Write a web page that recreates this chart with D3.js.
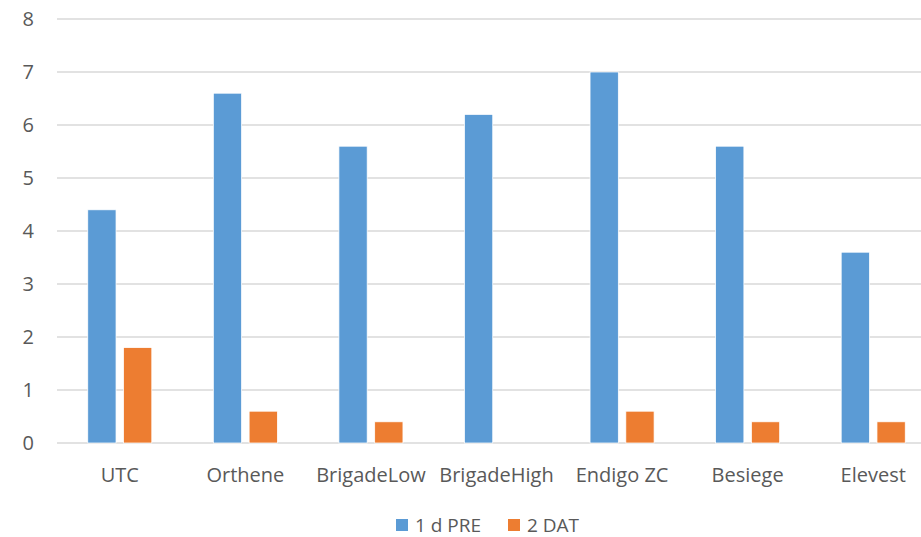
<!DOCTYPE html>
<html>
<head>
<meta charset="utf-8">
<script src="https://d3js.org/d3.v7.min.js"></script>
<style>
  body { margin: 0; background: #fff; }
  svg text { font-family: "Open Sans", Lato, sans-serif; fill: #595959; }
</style>
</head>
<body>
<svg id="chart" width="921" height="537"></svg>
<script>
// data
const categories = ["UTC", "Orthene", "BrigadeLow", "BrigadeHigh", "Endigo ZC", "Besiege", "Elevest"];
const seriesNames = ["1 d PRE", "2 DAT"];
const pre = [4.4, 6.6, 5.6, 6.2, 7.0, 5.6, 3.6];
const dat = [1.8, 0.6, 0.4, 0, 0.6, 0.4, 0.4];
const yTicks = [0, 1, 2, 3, 4, 5, 6, 7, 8];
const colors = ["#5B9BD5", "#ED7D31"];

const svg = d3.select("svg#chart");
const plotLeft = 57, plotRight = 936, plotTop = 19, plotBottom = 443;

const x0 = d3.scaleBand().domain(categories).range([plotLeft, plotRight])
  .paddingInner(0.49).paddingOuter(0.245);
const x1 = d3.scaleBand().domain(seriesNames).range([0, x0.bandwidth()])
  .paddingInner(0.21);
const y = d3.scaleLinear().domain([0, 8]).range([plotBottom, plotTop]);

// gridlines
svg.append("g").selectAll("line").data(yTicks).join("line")
  .attr("x1", plotLeft).attr("x2", plotRight)
  .attr("y1", d => y(d)).attr("y2", d => y(d))
  .attr("stroke", "#D9D9D9").attr("stroke-width", 1.5);

// y labels
svg.append("g").selectAll("text").data(yTicks).join("text")
  .attr("x", 34).attr("y", d => y(d))
  .attr("text-anchor", "end").attr("dy", "0.36em")
  .attr("font-size", 20)
  .text(d => d);

const rows = categories.map((c, i) => ({ cat: c, vals: [pre[i], dat[i]] }));

const groups = svg.append("g").selectAll("g").data(rows).join("g")
  .attr("transform", d => `translate(${x0(d.cat)},0)`);

groups.selectAll("rect")
  .data(d => d.vals.map((v, j) => ({ s: seriesNames[j], v: v, j: j })).filter(d => d.v > 0))
  .join("rect")
  .attr("x", d => x1(d.s))
  .attr("width", x1.bandwidth())
  .attr("y", d => y(d.v))
  .attr("height", d => y(0) - y(d.v))
  .attr("fill", d => colors[d.j])
  .attr("stroke", "#fff").attr("stroke-width", 0.75);

// category labels
svg.append("g").selectAll("text").data(categories).join("text")
  .attr("x", d => x0(d) + x0.bandwidth() / 2)
  .attr("y", 481.5)
  .attr("text-anchor", "middle")
  .attr("font-size", 20)
  .text(d => d);

// legend
const legendX = [396, 508];
const legend = svg.append("g").selectAll("g").data(seriesNames).join("g")
  .attr("transform", (d, i) => `translate(${legendX[i]},519)`);
legend.append("rect").attr("width", 12).attr("height", 12)
  .attr("fill", (d, i) => colors[i]);
legend.append("text").attr("x", 19).attr("y", 12.5)
  .attr("font-size", 19).text(d => d);
</script>
</body>
</html>
